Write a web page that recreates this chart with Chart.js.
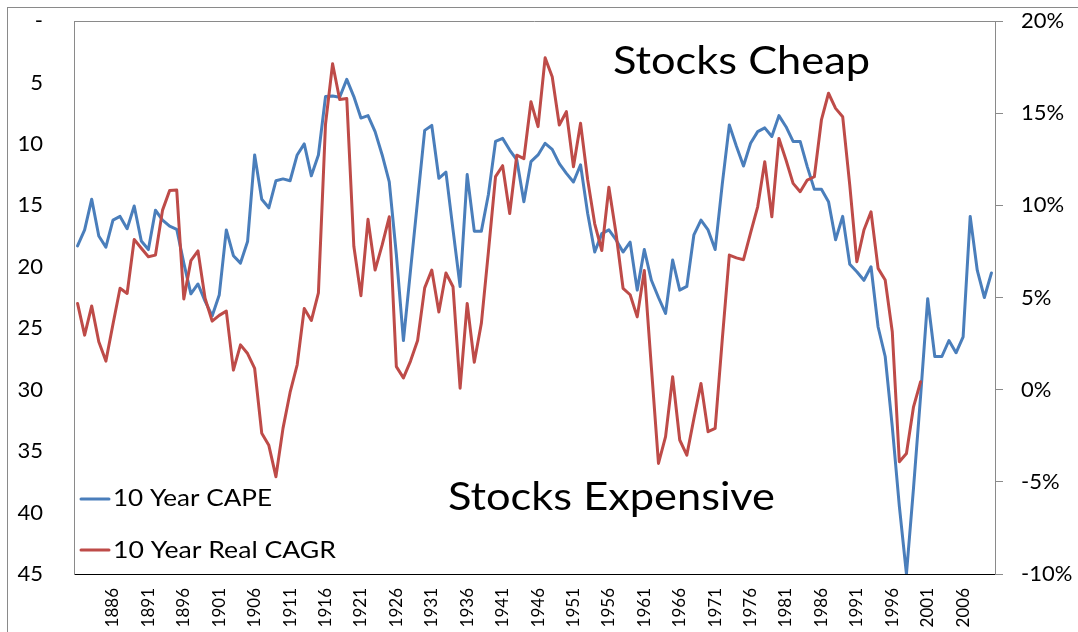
<!DOCTYPE html>
<html>
<head>
<meta charset="utf-8">
<script src="https://cdn.jsdelivr.net/npm/chart.js@4.4.1/dist/chart.umd.min.js"></script>
<style>
  html, body { margin: 0; padding: 0; background: #fff; }
</style>
</head>
<body>
<canvas id="chart" width="1078" height="632"></canvas>
<script>
// Kategorien: Jahre 1881 - 2010
const years = [
  1881, 1882, 1883, 1884, 1885, 1886, 1887, 1888, 1889, 1890,
  1891, 1892, 1893, 1894, 1895, 1896, 1897, 1898, 1899, 1900,
  1901, 1902, 1903, 1904, 1905, 1906, 1907, 1908, 1909, 1910,
  1911, 1912, 1913, 1914, 1915, 1916, 1917, 1918, 1919, 1920,
  1921, 1922, 1923, 1924, 1925, 1926, 1927, 1928, 1929, 1930,
  1931, 1932, 1933, 1934, 1935, 1936, 1937, 1938, 1939, 1940,
  1941, 1942, 1943, 1944, 1945, 1946, 1947, 1948, 1949, 1950,
  1951, 1952, 1953, 1954, 1955, 1956, 1957, 1958, 1959, 1960,
  1961, 1962, 1963, 1964, 1965, 1966, 1967, 1968, 1969, 1970,
  1971, 1972, 1973, 1974, 1975, 1976, 1977, 1978, 1979, 1980,
  1981, 1982, 1983, 1984, 1985, 1986, 1987, 1988, 1989, 1990,
  1991, 1992, 1993, 1994, 1995, 1996, 1997, 1998, 1999, 2000,
  2001, 2002, 2003, 2004, 2005, 2006, 2007, 2008, 2009, 2010
]

// 10 Year CAPE (linke Achse, umgekehrt)
const capeValues = [
  18.3, 17.0, 14.5, 17.5, 18.4, 16.2, 15.9, 16.9, 15.05, 17.9,
  18.6, 15.4, 16.2, 16.7, 16.95, 19.7, 22.2, 21.4, 22.8, 24.0,
  22.3, 17.0, 19.1, 19.7, 17.95, 10.9, 14.5, 15.2, 13.0, 12.85,
  13.0, 10.9, 10.0, 12.6, 10.9, 6.15, 6.1, 6.2, 4.75, 6.15,
  7.9, 7.7, 9.0, 10.9, 13.1, 19.0, 26.0, 20.3, 14.6, 8.9,
  8.5, 12.8, 12.3, 17.0, 21.6, 12.5, 17.1, 17.1, 14.1, 9.8,
  9.55, 10.5, 11.3, 14.7, 11.45, 10.9, 9.95, 10.44, 11.6, 12.4,
  13.1, 11.7, 15.65, 18.8, 17.3, 17.0, 17.8, 18.8, 18.0, 21.9,
  18.6, 21.1, 22.5, 23.8, 19.45, 21.9, 21.6, 17.4, 16.2, 17.0,
  18.6, 13.3, 8.46, 10.2, 11.8, 9.95, 9.0, 8.7, 9.4, 7.7,
  8.6, 9.8, 9.8, 11.85, 13.7, 13.7, 14.7, 17.8, 15.9, 19.8,
  20.4, 21.1, 20.0, 24.9, 27.3, 33.0, 39.5, 45.0, 38.0, 30.5,
  22.6, 27.3, 27.3, 26.0, 27.0, 25.7, 15.9, 20.3, 22.5, 20.5
]

// 10 Year Real CAGR in % (rechte Achse), endet 2000
const cagrValues = [
  4.68, 2.96, 4.54, 2.6, 1.55, 3.55, 5.5, 5.22, 8.15, 7.67,
  7.21, 7.3, 9.74, 10.8, 10.83, 4.92, 7.0, 7.53, 4.96, 3.72,
  4.03, 4.26, 1.06, 2.43, 1.96, 1.15, -2.36, -3.02, -4.72, -2.1,
  -0.15, 1.35, 4.4, 3.75, 5.25, 14.4, 17.68, 15.74, 15.8, 7.78,
  5.1, 9.24, 6.49, 7.85, 9.38, 1.25, 0.64, 1.55, 2.67, 5.52,
  6.49, 4.21, 6.33, 5.58, 0.08, 4.68, 1.49, 3.6, 7.5, 11.56,
  12.15, 9.56, 12.72, 12.53, 15.62, 14.27, 18.0, 16.98, 14.36, 15.08,
  12.09, 14.45, 11.4, 9.0, 7.55, 10.98, 8.5, 5.5, 5.15, 3.95,
  6.47, 1.2, -4.0, -2.55, 0.7, -2.73, -3.55, -1.56, 0.34, -2.28,
  -2.1, 2.7, 7.3, 7.15, 7.05, 8.5, 9.92, 12.37, 9.38, 13.63,
  12.46, 11.19, 10.74, 11.37, 11.55, 14.63, 16.08, 15.26, 14.81, 11.1,
  6.94, 8.66, 9.65, 6.58, 5.95, 3.14, -3.91, -3.46, -0.93, 0.43
]

// Achsenbeschriftungen
const capeTicks = ['-', '5', '10', '15', '20', '25', '30', '35', '40', '45']
const cagrTicks = ['-10%', '-5%', '0%', '5%', '10%', '15%', '20%']

const blue = '#4a7ebb'
const red = '#be4b48'
const gray = '#8a8a8a'

Chart.defaults.font.family = 'Lato'
Chart.defaults.color = '#000'

// Text horizontal auf Zielbreite strecken (Excel-Screenshot wirkt breiter)
function drawText(ctx, text, x, capMid, capPx, width) {
  const size = capPx / 0.7165
  ctx.font = size + 'px Lato'
  const w = ctx.measureText(text).width
  ctx.save()
  ctx.translate(x, capMid + capPx / 2)
  ctx.scale(width / w, 1)
  ctx.textAlign = 'left'
  ctx.textBaseline = 'alphabetic'
  ctx.fillStyle = '#000'
  ctx.fillText(text, 0, 0)
  ctx.restore()
}

// Y-Achsen: feste Breite, kein Zusatzabstand oben/unten
function fixWidth(width) {
  return function (scale) {
    scale.width = width
    scale.paddingTop = 0
    scale.paddingBottom = 0
  }
}

const frame = {
  id: 'frame',
  beforeDraw(chart) {
    const ctx = chart.ctx
    ctx.save()
    ctx.fillStyle = '#fff'
    ctx.fillRect(0, 0, chart.width, chart.height)
    ctx.strokeStyle = gray
    ctx.lineWidth = 1
    ctx.strokeRect(7.5, 7.5, chart.width + 20, chart.height + 20)
    ctx.restore()
  },
  afterDraw(chart) {
    const ctx = chart.ctx
    const a = chart.chartArea
    ctx.save()
    // obere Rahmenlinie der Zeichenfläche
    ctx.strokeStyle = gray
    ctx.lineWidth = 1
    ctx.beginPath()
    ctx.moveTo(a.left, a.top + 0.5)
    ctx.lineTo(a.right, a.top + 0.5)
    ctx.stroke()

    drawText(ctx, 'Stocks Cheap', 613, 60, 28, 257)
    drawText(ctx, 'Stocks Expensive', 448, 495.5, 28, 327)

    // Legende innerhalb der Fläche
    ctx.lineWidth = 3
    ctx.lineCap = 'round'
    ctx.strokeStyle = blue
    ctx.beginPath()
    ctx.moveTo(81, 499)
    ctx.lineTo(109, 499)
    ctx.stroke()
    ctx.strokeStyle = red
    ctx.beginPath()
    ctx.moveTo(81, 550)
    ctx.lineTo(109, 550)
    ctx.stroke()
    drawText(ctx, '10 Year CAPE', 113, 498, 16, 159)
    drawText(ctx, '10 Year Real CAGR', 113, 550, 16, 223)
    ctx.restore()
  }
}

new Chart(document.getElementById('chart'), {
  type: 'line',
  data: {
    labels: years,
    datasets: [
      {
        label: '10 Year CAPE',
        data: capeValues,
        yAxisID: 'y',
        borderColor: blue,
        backgroundColor: blue,
        order: 1
      },
      {
        label: '10 Year Real CAGR',
        data: cagrValues,
        yAxisID: 'y1',
        borderColor: red,
        backgroundColor: red,
        order: 0
      }
    ]
  },
  options: {
    responsive: false,
    animation: false,
    layout: { padding: { top: 21, left: 0, right: 0, bottom: 0 } },
    plugins: {
      legend: { display: false },
      tooltip: { enabled: false }
    },
    elements: {
      point: { radius: 0 },
      line: { borderWidth: 3, tension: 0, borderJoinStyle: 'round', borderCapStyle: 'round' }
    },
    scales: {
      x: {
        offset: true,
        grid: { display: false, drawTicks: false },
        border: { display: true, color: '#000', width: 1 },
        ticks: {
          autoSkip: false,
          minRotation: 90,
          maxRotation: 90,
          padding: 14,
          font: { size: 17 },
          callback(value, index) {
            const yr = years[index]
            return (yr >= 1886 && yr % 5 === 1) ? String(yr) : ''
          }
        },
        afterFit(scale) {
          scale.height = 58
          scale.paddingLeft = 0
          scale.paddingRight = 0
        }
      },
      y: {
        position: 'left',
        reverse: true,
        min: 0,
        max: 45,
        grid: { display: false, drawTicks: false },
        border: { display: true, color: gray, width: 1 },
        ticks: {
          stepSize: 5,
          padding: 31,
          font: { size: 22 },
          callback(value) { return capeTicks[Math.round(value / 5)] }
        },
        afterFit: fixWidth(74)
      },
      y1: {
        position: 'right',
        min: -10,
        max: 20,
        grid: { drawOnChartArea: false, drawTicks: true, tickLength: 8, color: gray },
        border: { display: true, color: gray, width: 1 },
        ticks: {
          stepSize: 5,
          padding: 18,
          font: { size: 22 },
          callback(value) { return cagrTicks[Math.round((value + 10) / 5)] }
        },
        afterFit: fixWidth(83)
      }
    }
  },
  plugins: [frame]
})
</script>
</body>
</html>
